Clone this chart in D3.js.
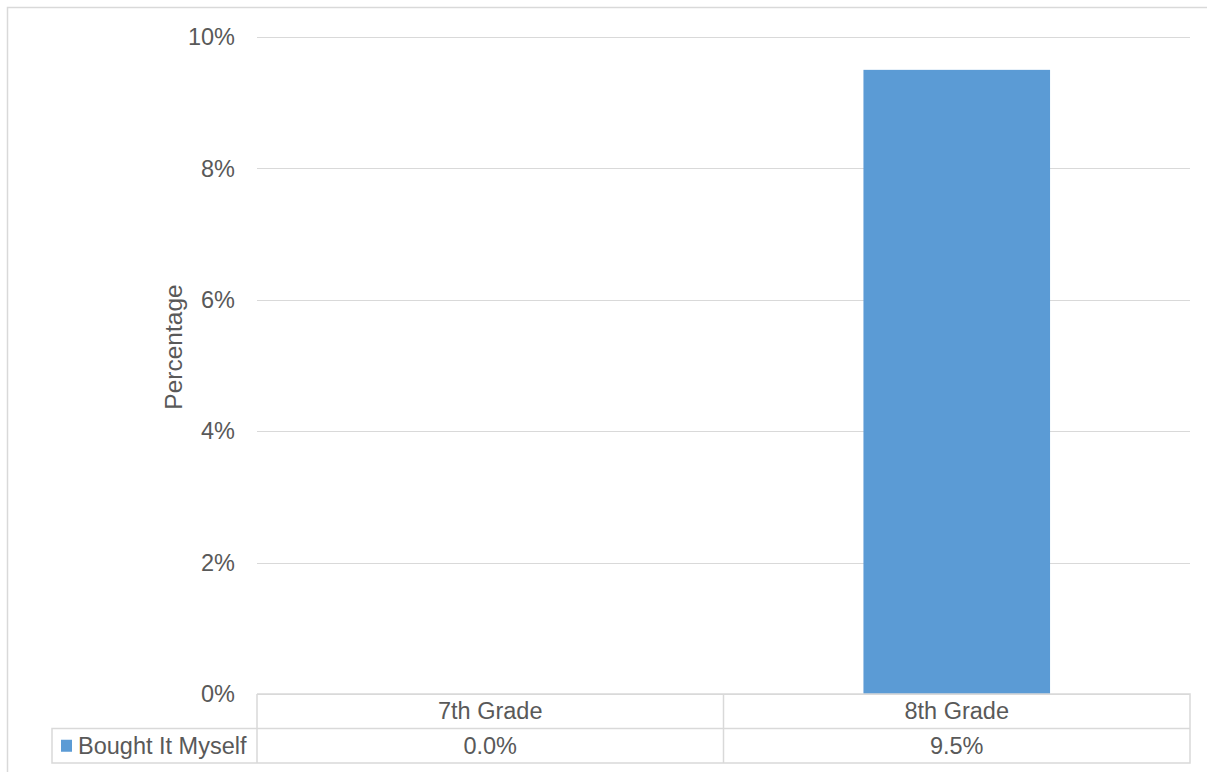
<!DOCTYPE html>
<html>
<head>
<meta charset="utf-8">
<script src="https://cdn.jsdelivr.net/npm/d3@7"></script>
<style>
    body { margin: 0; background: #fff; }
    svg { display: block; font-family: "Liberation Sans", Arial, sans-serif; }
</style>
</head>
<body>
<svg id="chart" width="1207" height="772"></svg>
<script>
// chart data
var categories = ['7th Grade', '8th Grade'];
var seriesName = 'Bought It Myself';
var seriesValues = [0.0, 9.5];
var yTicks = [0, 2, 4, 6, 8, 10];

var width = 1207,
    height = 772,
    margin = { top: 37, right: 17, bottom: 78, left: 257 },
    gridColor = '#d9d9d9',
    textColor = '#595959',
    barColor = '#5b9bd5',
    fontSize = '23.5px',
    rowHeight = 34.5;

var svg = d3.select('#chart');

// outer chart border (only left and top visible)
svg.append('path')
    .attr('d', 'M7.5,' + height + 'V7.5H' + width)
    .attr('fill', 'none')
    .attr('stroke', gridColor)
    .attr('stroke-width', 1.5);

var plotLeft = margin.left,
    plotRight = width - margin.right,
    plotTop = margin.top,
    plotBottom = height - margin.bottom;

var x = d3.scaleBand()
    .domain(categories)
    .range([plotLeft, plotRight])
    .paddingInner(0)
    .paddingOuter(0);

var y = d3.scaleLinear()
    .domain([0, 10])
    .range([plotBottom, plotTop]);

// gridlines
svg.append('g')
    .selectAll('line')
    .data(yTicks)
    .join('line')
    .attr('x1', plotLeft)
    .attr('x2', plotRight)
    .attr('y1', function(d) { return Math.round(y(d)) + 0.5; })
    .attr('y2', function(d) { return Math.round(y(d)) + 0.5; })
    .attr('stroke', gridColor)
    .attr('stroke-width', 1);

// y tick labels
svg.append('g')
    .selectAll('text')
    .data(yTicks)
    .join('text')
    .attr('x', 235)
    .attr('y', function(d) { return y(d); })
    .attr('dy', '0.35em')
    .attr('text-anchor', 'end')
    .attr('fill', textColor)
    .style('font-size', fontSize)
    .text(function(d) { return d + '%'; });

// y axis title
svg.append('text')
    .attr('transform', 'translate(182,347) rotate(-90)')
    .attr('text-anchor', 'middle')
    .attr('fill', textColor)
    .style('font-size', '24.5px')
    .text('Percentage');

// bars (40% of category width, centred)
var barWidth = x.bandwidth() * 0.4;
svg.append('g')
    .selectAll('rect')
    .data(seriesValues)
    .join('rect')
    .attr('x', function(d, i) { return x(categories[i]) + (x.bandwidth() - barWidth) / 2; })
    .attr('y', function(d) { return y(d); })
    .attr('width', barWidth)
    .attr('height', function(d) { return y(0) - y(d); })
    .attr('fill', barColor);

// data table
var table = svg.append('g')
    .attr('fill', 'none')
    .attr('stroke', gridColor)
    .attr('stroke-width', 1.5);

var legendLeft = 52,
    row1 = plotBottom,
    row2 = plotBottom + rowHeight,
    row3 = plotBottom + 2 * rowHeight;

table.append('path')
    .attr('d', 'M' + plotLeft + ',' + row1 + 'H' + plotRight + 'V' + row3 +
        'H' + legendLeft + 'V' + row2 + 'H' + plotRight);
categories.forEach(function(c) {
    table.append('line')
        .attr('x1', x(c)).attr('x2', x(c))
        .attr('y1', row1).attr('y2', row3);
});

// category labels
svg.append('g')
    .selectAll('text')
    .data(categories)
    .join('text')
    .attr('x', function(d) { return x(d) + x.bandwidth() / 2; })
    .attr('y', (row1 + row2) / 2)
    .attr('dy', '0.35em')
    .attr('text-anchor', 'middle')
    .attr('fill', textColor)
    .style('font-size', fontSize)
    .text(function(d) { return d; });

// value row
svg.append('g')
    .selectAll('text')
    .data(seriesValues)
    .join('text')
    .attr('x', function(d, i) { return x(categories[i]) + x.bandwidth() / 2; })
    .attr('y', (row2 + row3) / 2)
    .attr('dy', '0.35em')
    .attr('text-anchor', 'middle')
    .attr('fill', textColor)
    .style('font-size', fontSize)
    .text(function(d) { return d.toFixed(1) + '%'; });

// legend key in table
svg.append('rect')
    .attr('x', 61)
    .attr('y', (row2 + row3) / 2 - 6)
    .attr('width', 11)
    .attr('height', 12)
    .attr('fill', barColor);

svg.append('text')
    .attr('x', 78)
    .attr('y', (row2 + row3) / 2)
    .attr('dy', '0.35em')
    .attr('fill', textColor)
    .style('font-size', fontSize)
    .text(seriesName);
</script>
</body>
</html>
